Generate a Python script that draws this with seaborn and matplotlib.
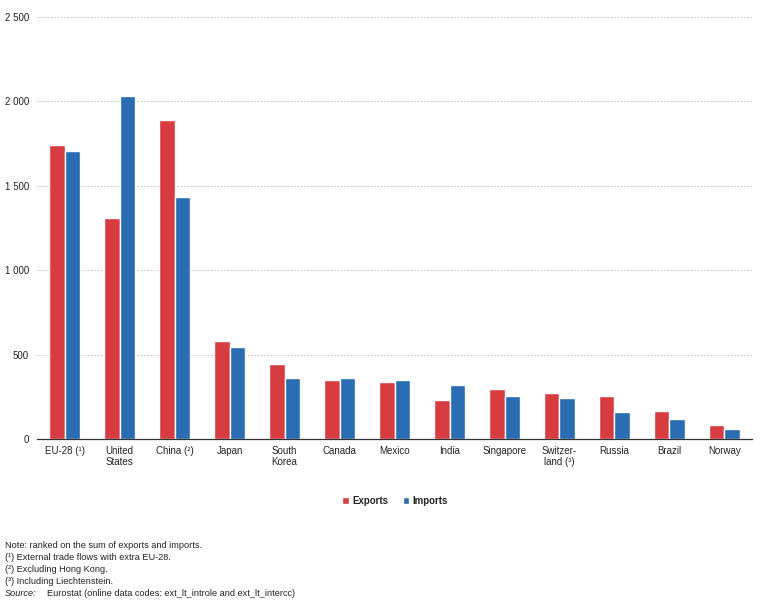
import matplotlib

matplotlib.use("Agg")

import matplotlib.pyplot as plt  # noqa: E402
import numpy as np  # noqa: E402
import pandas as pd  # noqa: E402
import seaborn as sns  # noqa: E402
from matplotlib.ticker import FixedLocator, FuncFormatter  # noqa: E402

countries = [
    "EU-28 (¹)", "United\nStates", "China (²)", "Japan", "South\nKorea",
    "Canada", "Mexico", "India", "Singapore", "Switzer-\nland (³)",
    "Russia", "Brazil", "Norway",
]
exports = [1742, 1311, 1892, 579, 445, 350, 338, 231, 296, 272, 255, 166, 83]
imports = [1708, 2031, 1433, 547, 364, 364, 350, 320, 255, 243, 160, 118, 59]

notes = [
    "Note: ranked on the sum of exports and imports.",
    "(¹) External trade flows with extra EU-28.",
    "(²) Excluding Hong Kong.",
    "(³) Including Liechtenstein.",
]
source = "Eurostat (online data codes: ext_lt_introle and ext_lt_intercc)"

df = pd.DataFrame({
    "country": countries * 2,
    "value": exports + imports,
    "flow": ["Exports"] * len(countries) + ["Imports"] * len(countries),
})

sns.set_style("white")
plt.rcParams["font.family"] = ["Liberation Sans", "DejaVu Sans"]

fig = plt.figure(figsize=(7.61, 6.0), dpi=100)
ax = fig.add_axes([0.049, 0.268, 0.939, 0.704])

sns.barplot(
    data=df, x="country", y="value", hue="flow",
    palette={"Exports": "#d73c41", "Imports": "#2a6db3"},
    width=0.56, saturation=1, ax=ax, legend=True,
)

ax.set_ylim(0, 2500)
ax.set_xlim(-0.5, len(countries) - 0.5)
ax.yaxis.set_major_locator(FixedLocator([0, 500, 1000, 1500, 2000, 2500]))
ax.yaxis.set_major_formatter(
    FuncFormatter(lambda v, _: f"{int(v):,}".replace(",", " "))
)
ax.grid(axis="y", color="#b8b8b8", linestyle=(0, (2, 2)), linewidth=0.6)
ax.set_axisbelow(True)

for side in ["left", "right", "top"]:
    ax.spines[side].set_visible(False)
ax.spines["bottom"].set_color("#333333")
ax.spines["bottom"].set_linewidth(0.9)

ax.set_xlabel("")
ax.set_ylabel("")
ax.tick_params(axis="x", which="major", length=0, labelsize=7, pad=5,
               colors="#222222")
ax.set_xticks(np.arange(-0.5, len(countries), 1.0), minor=True)
ax.tick_params(axis="x", which="minor", length=4, width=0.8, color="#333333")
ax.tick_params(axis="y", length=0, labelsize=7, pad=6, colors="#222222")
for lab in ax.get_xticklabels():
    lab.set_linespacing(1.1)

handles, labels = ax.get_legend_handles_labels()
ax.legend(
    handles, labels, loc="center", bbox_to_anchor=(0.519, 0.165),
    bbox_transform=fig.transFigure, ncol=2, frameon=False,
    handlelength=0.7, handleheight=0.7, handletextpad=0.3, columnspacing=1.5,
    prop={"weight": "bold", "size": 7},
)

# footnotes, one line every 12 px
y = 1 - 545 / 600
step = 12 / 600
for line in notes:
    fig.text(0.006, y, line, fontsize=6.6, color="#222222", va="center")
    y -= step
fig.text(0.006, y, "Source:", fontsize=6.6, style="italic",
         color="#222222", va="center")
fig.text(0.062, y, source, fontsize=6.6, color="#222222", va="center")

fig.savefig("out.png", dpi=100)
